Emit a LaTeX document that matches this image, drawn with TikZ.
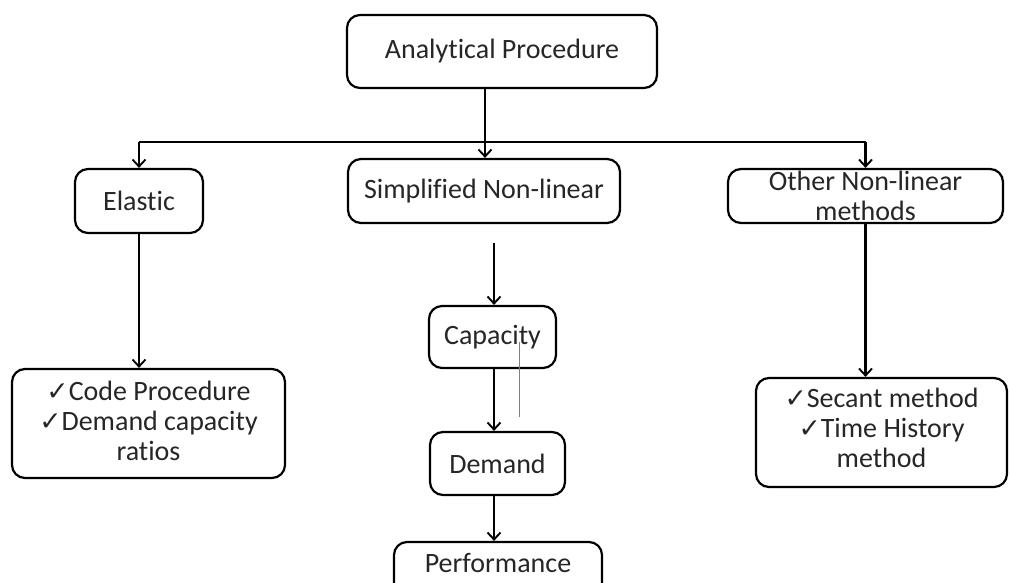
\documentclass[tikz,border=0pt]{standalone}
\usepackage{fontspec}
\setmainfont{Carlito}[Ligatures=NoCommon]
\newfontfamily\symfont{DejaVu Sans}
\usetikzlibrary{arrows.meta}
\newcommand{\ck}{{\symfont\scalebox{0.95}{✓}}}
\begin{document}
\begin{tikzpicture}[x=1pt,y=-1pt,
  box/.style={draw=black,line width=2.2pt,rounded corners=13pt,inner sep=0pt,align=center,
    font=\fontsize{28}{30}\selectfont,text=black!85},
  txt/.style={inner sep=0pt,align=center,font=\fontsize{28}{30}\selectfont,text=black!85},
  arr/.style={line width=2.2pt,-{Straight Barb[length=7pt,width=13pt,line width=1.9pt]}},
  ln/.style={line width=2.2pt}]
\useasboundingbox (0,0) rectangle (1010,583);
\clip (0,0) rectangle (1010,583);
\node[box,minimum width=310,minimum height=73] (top) at (502,51.5) {Analytical Procedure};
\node[box,minimum width=128,minimum height=64] (elastic) at (139,201) {Elastic};
\node[box,minimum width=272,minimum height=64] (simp) at (484,191) {Simplified Non-linear};
\node[box,minimum width=275,minimum height=54] (other) at (865.5,196) {};
\node[txt] (othertxt) at (865.5,196) {Other Non-linear\\methods};
\node[box,minimum width=127,minimum height=62] (cap) at (492.5,337) {Capacity};
\node[box,minimum width=135,minimum height=63] (dem) at (497.5,463.5) {Demand};
\node[box,minimum width=208,minimum height=64] (perf) at (498,574) {};
\node[txt] (perftxt) at (498,563) {Performance};
\node[box,minimum width=273,minimum height=109] (code) at (148.5,423.5) {};
\node[txt] (codetxt) at (148.5,421) {\ck Code Procedure\\\ck Demand capacity\\ratios};
\node[box,minimum width=251,minimum height=109] (sec) at (881.5,432.5) {};
\node[txt] (sectxt) at (881.5,428) {\ck Secant method\\\ck Time History\\method};
\coordinate (bus) at (485,142);
\coordinate (capin) at (494,243);
\coordinate (g1) at (519,342);
\coordinate (g2) at (519,417);
% connectors
\draw[arr] (top.south -| bus) -- (bus |- simp.north);
\draw[ln] (elastic.north |- bus) -- (other.north |- bus);
\draw[arr] (elastic.north |- bus) -- (elastic.north);
\draw[arr] (other.north |- bus) -- (other.north);
\draw[arr] (elastic.south) -- (elastic.south |- code.north);
\draw[arr] (other.south) -- (other.south |- sec.north);
\draw[arr] (capin) -- (capin |- cap.north);
\draw[arr] (capin |- cap.south) -- (capin |- dem.north);
\draw[arr] (capin |- dem.south) -- (capin |- perf.north);
\draw[gray,line width=0.9pt] (g1) -- (g2);
\end{tikzpicture}
\end{document}
